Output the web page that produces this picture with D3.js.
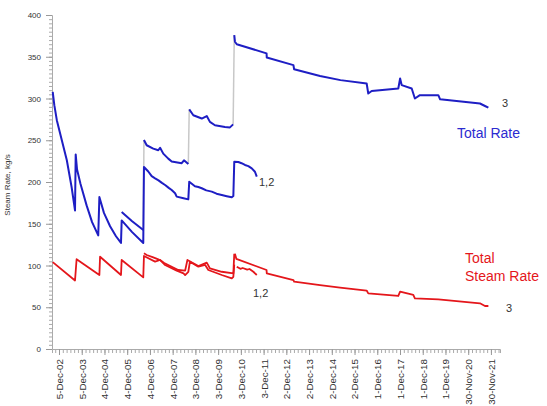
<!DOCTYPE html>
<html>
<head>
<meta charset="utf-8">
<script src="https://cdn.jsdelivr.net/npm/d3@7"></script>
<style>
  body { margin: 0; background: #fff; }
  svg { display: block; font-family: Arial, "Liberation Sans", sans-serif; }
</style>
</head>
<body>
<div id="chart"></div>
<script>
// ---- data (decimal year, kg/s) ----
// lower blue: early wells + "1,2"
const blueLow = [
  [2002.65, 308], [2002.72, 292], [2002.83, 274], [2003.05, 250], [2003.27, 226], [2003.48, 194], [2003.63, 166],
  [2003.66, 233], [2003.72, 215], [2003.87, 198], [2004.14, 172], [2004.38, 152], [2004.65, 136],
  [2004.70, 182], [2004.90, 163], [2005.17, 147], [2005.43, 135], [2005.65, 127],
  [2005.68, 154], [2006.14, 140], [2006.63, 127],
  [2006.66, 218], [2006.85, 212.6], [2007.00, 207], [2007.15, 204.4], [2007.30, 202], [2007.45, 199],
  [2007.59, 196.4], [2007.75, 193], [2007.88, 190.4], [2008.03, 186.5], [2008.10, 182.5],
  [2008.40, 180.5], [2008.61, 179.2],
  [2008.65, 200.4], [2008.90, 195], [2009.05, 194], [2009.20, 192.5], [2009.40, 190], [2009.64, 188.5],
  [2009.85, 186], [2010.08, 184.4], [2010.30, 183], [2010.52, 181.7], [2010.59, 183.2],
  [2010.63, 224.3], [2010.81, 224], [2010.95, 222.5], [2011.10, 220.4], [2011.25, 219],
  [2011.40, 216.4], [2011.54, 212.3], [2011.62, 206.4]
];
// upper blue: pieces joined by grey connectors, last piece is well "3"
const blueUp1 = [[2005.68, 164], [2006.14, 153], [2006.63, 142.5]];
const blueUp2 = [
  [2006.66, 250.3], [2006.78, 244], [2007.07, 240], [2007.29, 238], [2007.37, 241], [2007.51, 234],
  [2007.73, 228], [2007.88, 224.5], [2008.32, 222.5], [2008.42, 226], [2008.61, 221.6]
];
const blueUp3 = [
  [2008.65, 287], [2008.83, 280], [2009.20, 276], [2009.42, 279], [2009.56, 272], [2009.78, 268],
  [2010.22, 266], [2010.44, 265.4], [2010.58, 269]
];
const blueUp4 = [
  [2010.63, 376], [2010.66, 368], [2010.74, 365], [2012.05, 354], [2012.06, 349], [2013.23, 340],
  [2013.26, 335], [2014.40, 327], [2015.30, 322], [2016.45, 318], [2016.52, 306], [2016.67, 309],
  [2017.84, 312], [2017.92, 324], [2017.99, 316], [2018.43, 312], [2018.57, 300], [2018.79, 304],
  [2019.60, 304], [2019.68, 299], [2021.43, 294], [2021.65, 291], [2021.80, 289]
];
// red: early wells + lower "1,2" line
const redLow = [
  [2002.65, 104], [2003.63, 82], [2003.70, 107.5], [2004.70, 88.6], [2004.73, 110.5], [2005.65, 88.6],
  [2005.68, 106.6], [2006.63, 85.8], [2006.66, 111.4], [2007.15, 104.6], [2007.37, 106.6],
  [2007.59, 100.6], [2008.10, 93.8], [2008.40, 90.6], [2008.47, 88.6], [2008.61, 92.5],
  [2008.68, 104.6], [2009.05, 98.6], [2009.35, 100.6], [2009.49, 94.6], [2010.08, 88.6],
  [2010.52, 84.5], [2010.59, 86.5], [2010.63, 101]
];
const redLow2 = [
  [2010.74, 98.6], [2010.90, 96], [2011.00, 97], [2011.20, 95], [2011.30, 95.8], [2011.47, 92.5], [2011.62, 88.6]
];
// red: upper line 2006-2010 and well "3"
const redUp = [
  [2006.66, 114.6], [2006.78, 112.6], [2007.07, 109.8], [2007.29, 107.4], [2007.41, 105.7],
  [2007.55, 103], [2008.17, 94.6], [2008.47, 93.8], [2008.57, 106.6], [2009.05, 99.4],
  [2009.42, 103.4], [2009.56, 96.6], [2010.08, 92.5], [2010.59, 90.6], [2010.63, 114]
];
const redUp3 = [
  [2010.66, 114], [2010.72, 108], [2012.05, 94.6], [2012.06, 90.6], [2013.23, 82.6], [2013.26, 80.6],
  [2014.40, 76.6], [2015.28, 73.5], [2016.45, 70], [2016.52, 66.6], [2017.84, 63.5], [2017.92, 68.6],
  [2018.50, 64.7], [2018.57, 60.6], [2019.60, 59.4], [2021.43, 54.7], [2021.65, 51.5], [2021.80, 51.5]
];

const yTicks = [0, 50, 100, 150, 200, 250, 300, 350, 400];
const firstTick = '2002-12-05';   // x labels every 365 days
const nXTicks = 20;

// ---- layout ----
const W = 547, H = 406;
const blue = '#1e1ec4', red = '#e4161b', connector = '#c8c8c8';

const yr = v => {
  const Y = Math.floor(v);
  const a = new Date(Y, 0, 1), b = new Date(Y + 1, 0, 1);
  return new Date(+a + (v - Y) * (b - a));
};

const x = d3.scaleTime().domain([yr(2002.618), yr(2022.311)]).range([52, 500]);
const y = d3.scaleLinear().domain([0, 400]).range([349, 15]);

const svg = d3.select('#chart').append('svg').attr('width', W).attr('height', H);

// y axis
const yMinor = d3.range(0, 401, 5);
svg.append('g').attr('transform', 'translate(52,0)')
  .call(d3.axisLeft(y).tickValues(yMinor).tickSize(3).tickFormat(''))
  .call(g => g.selectAll('line,path').attr('stroke', '#aaa'));
svg.append('g').attr('transform', 'translate(52,0)')
  .call(d3.axisLeft(y).tickValues(yTicks).tickSize(6).tickPadding(5))
  .call(g => g.select('path').remove())
  .call(g => g.selectAll('line').attr('stroke', '#999'))
  .call(g => g.selectAll('text').attr('font-size', '8px').attr('fill', '#333').attr('font-family', 'Arial, "Liberation Sans", sans-serif'));

// x axis
const t0 = d3.timeParse('%Y-%m-%d')(firstTick);
const xMajor = d3.range(nXTicks).map(i => d3.timeDay.offset(t0, 365 * i));
const xMinor = d3.range(-1, nXTicks * 6 + 1).map(i => d3.timeDay.offset(t0, Math.round(365 / 6 * i)))
  .filter(d => x(d) >= 52 && x(d) <= 500);
svg.append('g').attr('transform', 'translate(0,349)')
  .call(d3.axisBottom(x).tickValues(xMinor).tickSize(4).tickFormat(''))
  .call(g => g.selectAll('line,path').attr('stroke', '#aaa'));
svg.append('g').attr('transform', 'translate(0,349)')
  .call(d3.axisBottom(x).tickValues(xMajor).tickSize(6).tickFormat(d3.timeFormat('%-d-%b-%y')))
  .call(g => g.select('path').remove())
  .call(g => g.selectAll('line').attr('stroke', '#999'))
  .call(g => g.selectAll('text')
    .attr('font-size', '9.8px').attr('fill', '#333').attr('font-family', 'Arial, "Liberation Sans", sans-serif')
    .attr('text-anchor', 'end').attr('transform', 'rotate(-90)')
    .attr('x', -10).attr('y', 0).attr('dy', '0.35em'));

svg.append('text')
  .attr('transform', 'translate(10,185) rotate(-90)')
  .attr('text-anchor', 'middle').attr('font-size', '8px').attr('fill', '#333')
  .text('Steam Rate, kg/s');

// lines
const line = d3.line().x(d => x(yr(d[0]))).y(d => y(d[1]));
const plot = svg.append('g').attr('fill', 'none').attr('stroke-linejoin', 'round');

// grey connectors between upper blue pieces
const pieces = [blueUp1, blueUp2, blueUp3, blueUp4];
pieces.slice(1).forEach((p, i) => {
  const prev = pieces[i];
  plot.append('path').attr('d', line([prev[prev.length - 1], p[0]]))
    .attr('stroke', connector).attr('stroke-width', 1.5);
});

[redLow, redLow2, redUp, redUp3].forEach(s => {
  plot.append('path').attr('d', line(s)).attr('stroke', red).attr('stroke-width', 1.8);
});
[blueLow, ...pieces].forEach(s => {
  plot.append('path').attr('d', line(s)).attr('stroke', blue).attr('stroke-width', 2);
});

// labels
const lab = (tx, ty, txt, col, size) => svg.append('text')
  .attr('x', tx).attr('y', ty).attr('font-size', size).attr('fill', col).text(txt);
lab(259, 186, '1,2', '#333', '11px');
lab(253, 297, '1,2', '#333', '11px');
lab(502, 107, '3', '#333', '11px');
lab(506, 312, '3', '#333', '11px');
lab(457, 138, 'Total Rate', '#2b2bd0', '14px');
lab(465, 263, 'Total', red, '14px');
lab(465, 281, 'Steam Rate', red, '14px');
</script>
</body>
</html>
